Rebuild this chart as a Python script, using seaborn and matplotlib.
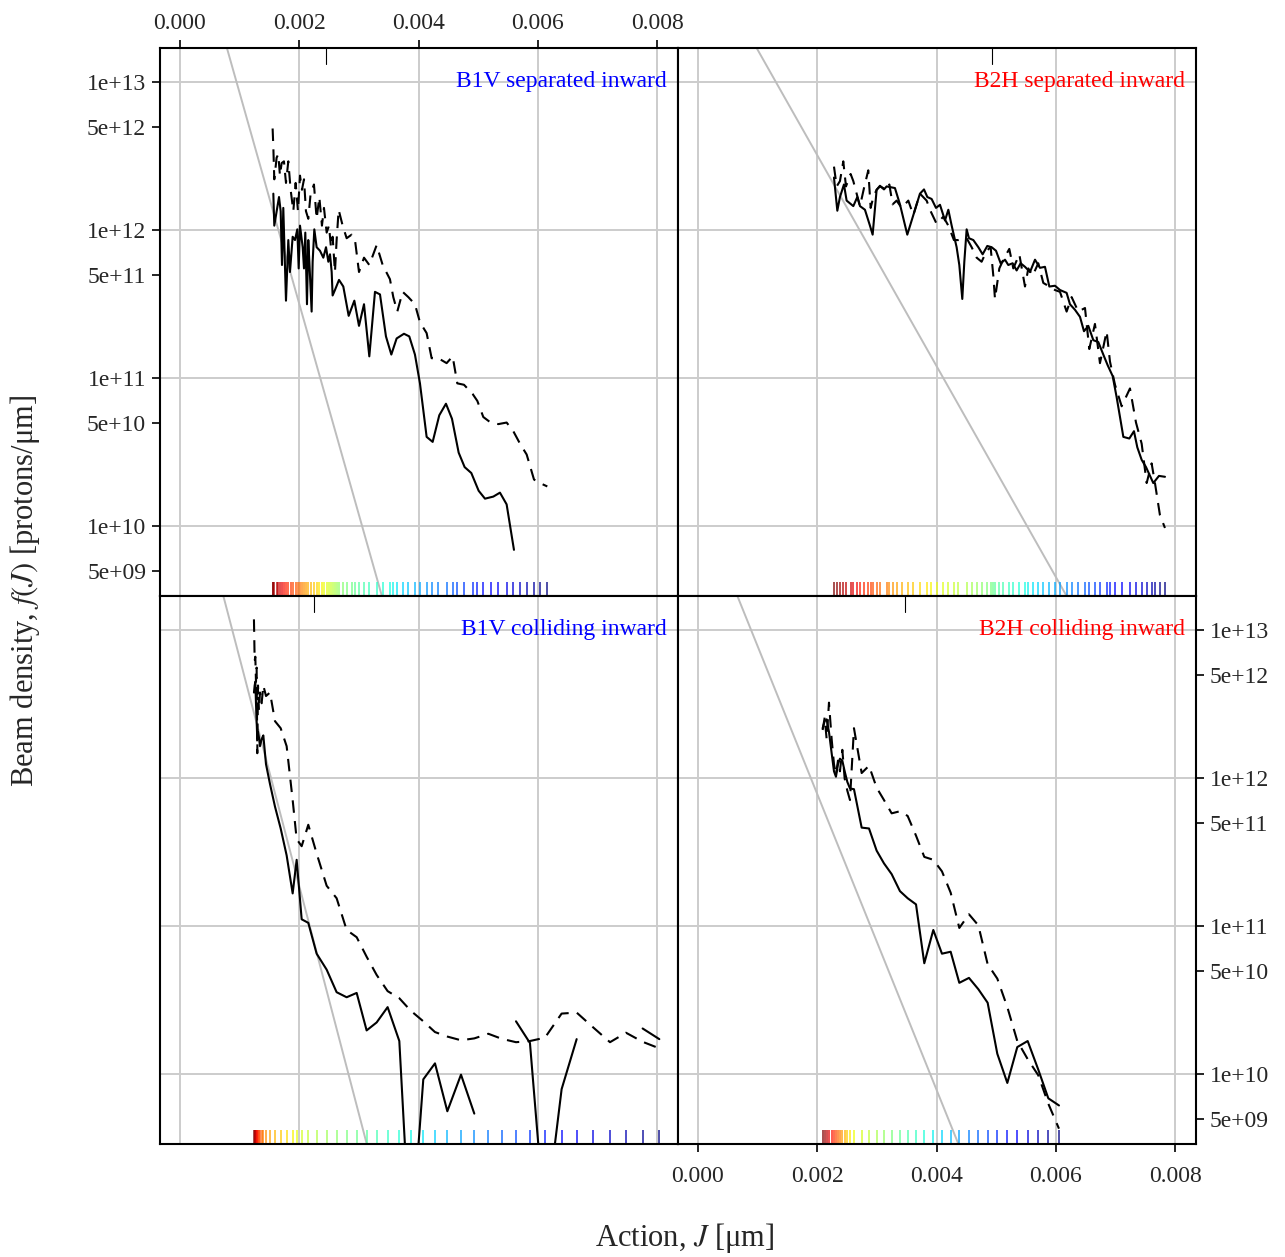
import numpy as np
import pandas as pd
import seaborn as sns
import matplotlib.pyplot as plt
from matplotlib.ticker import FixedLocator, FixedFormatter

# ---- B1V separated inward ----
b1v_sep_solid_j = [0.001565, 0.001581, 0.001660, 0.001688, 0.001710, 0.001732, 0.001777, 0.001816, 0.001844, 0.001889,
                   0.001928, 0.001967, 0.001990, 0.002012, 0.002057, 0.002079, 0.002101, 0.002129, 0.002151, 0.002174,
                   0.002207, 0.002224, 0.002252, 0.002291, 0.002347, 0.002403, 0.002448, 0.002487, 0.002515, 0.002543,
                   0.002559, 0.002598, 0.002666, 0.002738, 0.002828, 0.002923, 0.003001, 0.003085, 0.003174, 0.003269,
                   0.003353, 0.003453, 0.003543, 0.003632, 0.003755, 0.003844, 0.003939, 0.004023, 0.004135, 0.004236,
                   0.004347, 0.004459, 0.004560, 0.004672, 0.004772, 0.004884, 0.005007, 0.005113, 0.005253, 0.005364,
                   0.005476, 0.005599]
b1v_sep_solid_f = [1.76e12, 1.07e12, 1.67e12, 1.34e12, 5.8e11, 1.41e12, 3.33e11, 8.55e11, 5.2e11, 9.0e11,
                   8.55e11, 1.01e12, 5.5e11, 1.07e12, 7.65e11, 5.5e11, 9.6e11, 3.15e11, 8.55e11, 5.5e11,
                   2.81e11, 6.1e11, 1.01e12, 7.65e11, 7.24e11, 6.5e11, 7.65e11, 6.1e11, 6.85e11, 5.2e11,
                   3.61e11, 3.93e11, 4.6e11, 4.15e11, 2.63e11, 3.33e11, 2.25e11, 3.15e11, 1.40e11, 3.82e11,
                   3.67e11, 1.91e11, 1.44e11, 1.85e11, 1.99e11, 1.91e11, 1.44e11, 9.2e10, 4.0e10, 3.7e10,
                   5.6e10, 6.7e10, 5.3e10, 3.13e10, 2.5e10, 2.28e10, 1.73e10, 1.53e10, 1.58e10, 1.68e10,
                   1.40e10, 6.9e9]
b1v_sep_dash_j = [0.001553, 0.001565, 0.001581, 0.001620, 0.001648, 0.001676, 0.001704, 0.001743, 0.001777, 0.001816,
                  0.001855, 0.001900, 0.001939, 0.001978, 0.002012, 0.002045, 0.002079, 0.002112, 0.002151, 0.002190,
                  0.002246, 0.002291, 0.002336, 0.002380, 0.002414, 0.002459, 0.002498, 0.002531, 0.002559, 0.002598,
                  0.002626, 0.002660, 0.002727, 0.002794, 0.002878, 0.002934, 0.003001, 0.003085, 0.003174, 0.003297,
                  0.003398, 0.003520, 0.003576, 0.003643, 0.003733, 0.003828, 0.003939, 0.004023, 0.004135, 0.004219,
                  0.004331, 0.004470, 0.004571, 0.004649, 0.004761, 0.004906, 0.004985, 0.005085, 0.005208, 0.005337,
                  0.005476, 0.005588, 0.005700, 0.005812, 0.005935, 0.006035, 0.006158]
b1v_sep_dash_f = [4.85e12, 3.63e12, 2.2e12, 3.08e12, 3.25e12, 2.33e12, 2.83e12, 2.91e12, 2.08e12, 2.91e12,
                  1.87e12, 1.34e12, 2.08e12, 1.34e12, 2.33e12, 1.87e12, 2.20e12, 1.34e12, 1.19e12, 1.76e12,
                  2.03e12, 1.19e12, 1.67e12, 1.07e12, 1.41e12, 9.6e11, 1.07e12, 7.65e11, 9.0e11, 5.2e11,
                  8.55e11, 1.37e12, 1.07e12, 8.8e11, 9.3e11, 8.55e11, 5.2e11, 6.5e11, 5.8e11, 7.9e11,
                  5.8e11, 4.65e11, 3.52e11, 2.81e11, 3.82e11, 3.52e11, 3.15e11, 2.38e11, 2.01e11, 1.36e11,
                  1.36e11, 1.26e11, 1.40e11, 9.2e10, 9.0e10, 7.8e10, 7.0e10, 5.45e10, 5.0e10, 4.88e10,
                  5.0e10, 4.37e10, 3.6e10, 3.04e10, 2.06e10, 1.95e10, 1.85e10]

# ---- B2H separated inward ----
b2h_sep_solid_j = [0.002280, 0.002336, 0.002380, 0.002447, 0.002492, 0.002604, 0.002671, 0.002716, 0.002799, 0.002883,
                   0.002928, 0.002995, 0.003051, 0.003118, 0.003163, 0.003219, 0.003302, 0.003386, 0.003509, 0.003610,
                   0.003721, 0.003789, 0.003845, 0.003917, 0.003990, 0.004057, 0.004141, 0.004197, 0.004253, 0.004336,
                   0.004381, 0.004431, 0.004465, 0.004504, 0.004543, 0.004616, 0.004700, 0.004772, 0.004850, 0.004923,
                   0.004996, 0.005074, 0.005147, 0.005202, 0.005275, 0.005342, 0.005409, 0.005482, 0.005566, 0.005650,
                   0.005733, 0.005817, 0.005890, 0.005985, 0.006069, 0.006180, 0.006236, 0.006320, 0.006404, 0.006471,
                   0.006544, 0.006628, 0.006711, 0.006795, 0.006868, 0.006952, 0.007019, 0.007131, 0.007231, 0.007309,
                   0.007365, 0.007438, 0.007511, 0.007633, 0.007728, 0.007829]
b2h_sep_solid_f = [2.26e12, 1.35e12, 1.67e12, 2.03e12, 1.58e12, 1.45e12, 1.67e12, 1.45e12, 1.37e12, 1.07e12,
                   9.3e11, 1.87e12, 1.99e12, 1.88e12, 1.97e12, 1.95e12, 1.92e12, 1.49e12, 9.3e11, 1.26e12,
                   1.76e12, 1.88e12, 1.67e12, 1.62e12, 1.41e12, 1.48e12, 1.16e12, 1.37e12, 1.07e12, 7.65e11,
                   5.8e11, 3.42e11, 6.1e11, 1.01e12, 8.8e11, 8.55e11, 7.65e11, 6.85e11, 7.8e11, 7.65e11,
                   7.24e11, 5.96e11, 6.3e11, 5.8e11, 5.96e11, 5.33e11, 5.96e11, 5.64e11, 5.2e11, 6.3e11,
                   5.55e11, 5.64e11, 4.15e11, 4.2e11, 3.93e11, 3.76e11, 3.15e11, 2.89e11, 2.59e11, 2.07e11,
                   2.25e11, 1.80e11, 1.75e11, 1.44e11, 1.22e11, 1.03e11, 7.4e10, 4.0e10, 3.9e10, 4.37e10,
                   3.4e10, 2.8e10, 2.5e10, 1.95e10, 2.18e10, 2.15e10]
b2h_sep_dash_j = [0.002280, 0.002325, 0.002380, 0.002436, 0.002481, 0.002559, 0.002604, 0.002660, 0.002716, 0.002783,
                  0.002855, 0.002895, 0.002939, 0.002995, 0.003051, 0.003163, 0.003208, 0.003263, 0.003330, 0.003414,
                  0.003526, 0.003610, 0.003721, 0.003833, 0.003900, 0.004001, 0.004113, 0.004197, 0.004291, 0.004364,
                  0.004504, 0.004588, 0.004672, 0.004755, 0.004839, 0.004906, 0.004951, 0.004979, 0.005052, 0.005119,
                  0.005219, 0.005286, 0.005387, 0.005482, 0.005538, 0.005610, 0.005705, 0.005789, 0.005890, 0.005985,
                  0.006069, 0.006180, 0.006264, 0.006376, 0.006488, 0.006560, 0.006655, 0.006739, 0.006851, 0.006907,
                  0.006991, 0.007103, 0.007242, 0.007343, 0.007438, 0.007522, 0.007605, 0.007661, 0.007745, 0.007829]
b2h_sep_dash_f = [2.68e12, 1.97e12, 2.14e12, 2.91e12, 1.97e12, 2.39e12, 2.14e12, 1.76e12, 1.45e12, 1.92e12,
                  2.53e12, 1.41e12, 1.67e12, 1.87e12, 1.97e12, 1.87e12, 2.03e12, 1.49e12, 1.58e12, 1.41e12,
                  1.58e12, 1.26e12, 1.76e12, 1.58e12, 1.34e12, 1.10e12, 1.23e12, 1.07e12, 8.55e11, 8.55e11,
                  8.8e11, 7.65e11, 6.5e11, 6.1e11, 7.24e11, 7.65e11, 4.91e11, 3.42e11, 5.5e11, 6.3e11,
                  7.45e11, 5.5e11, 6.85e11, 4.15e11, 5.5e11, 4.91e11, 5.96e11, 4.39e11, 4.15e11, 3.93e11,
                  3.82e11, 2.81e11, 3.52e11, 2.81e11, 2.97e11, 1.57e11, 2.32e11, 1.26e11, 2.07e11, 1.29e11,
                  9.0e10, 6.44e10, 8.5e10, 5.0e10, 3.6e10, 1.95e10, 2.65e10, 1.95e10, 1.18e10, 9.7e9]

# ---- B1V colliding inward (nan = empty bin) ----
b1v_col_j = [0.001240, 0.001252, 0.001263, 0.001274, 0.001285, 0.001296, 0.001308, 0.001324, 0.001341, 0.001369,
             0.001397, 0.001442, 0.001509, 0.001593, 0.001688, 0.001788, 0.001889, 0.001956, 0.002040, 0.002151,
             0.002291, 0.002459, 0.002626, 0.002794, 0.002962, 0.003129, 0.003297, 0.003481, 0.003677, 0.003867,
             0.004079, 0.004275, 0.004482, 0.004711, 0.004934, 0.005169, 0.005392, 0.005633, 0.005867, 0.006119,
             0.006398, 0.006650, 0.006918, 0.007209, 0.007477, 0.007756, 0.008036]
b1v_col_solid_f = [3.78e12, 4.22e12, 4.47e12, 3.2e12, 2.42e12, 1.83e12, 2.05e12, 1.88e12, 1.64e12, 1.83e12,
                   1.94e12, 1.24e12, 9.1e11, 6.4e11, 4.56e11, 3.0e11, 1.66e11, 2.8e11, 1.11e11, 1.05e11,
                   6.5e10, 5.07e10, 3.57e10, 3.3e10, 3.53e10, 1.97e10, 2.23e10, 2.83e10, 1.67e10, 6.4e8,
                   9.2e9, 1.18e10, 5.6e9, 9.9e9, 5.4e9, np.nan, np.nan, 2.27e10, 1.62e10, 9.5e8,
                   7.9e9, 1.72e10, np.nan, np.nan, np.nan, 2.03e10, 1.72e10]
b1v_col_dash_f = [1.18e13, 6.2e12, 6.6e12, 4.47e12, 5.57e12, 1.47e12, 4.22e12, 2.86e12, 3.78e12, 3.2e12,
                  4.22e12, 3.58e12, 3.78e12, 2.42e12, 2.17e12, 1.64e12, 7.1e11, 3.86e11, 3.46e11, 4.83e11,
                  3.09e11, 1.87e11, 1.54e11, 9.4e10, 8.4e10, 6.2e10, 4.67e10, 3.63e10, 3.25e10, 2.68e10,
                  2.27e10, 1.92e10, 1.79e10, 1.69e10, 1.74e10, 1.87e10, 1.73e10, 1.64e10, 1.67e10, 1.76e10,
                  2.56e10, 2.6e10, 2.08e10, 1.64e10, 1.90e10, 1.65e10, 1.49e10]

# ---- B2H colliding inward ----
b2h_col_j = [0.002090, 0.002124, 0.002157, 0.002196, 0.002241, 0.002280, 0.002313, 0.002347, 0.002380, 0.002420,
             0.002459, 0.002504, 0.002548, 0.002615, 0.002744, 0.002867, 0.002995, 0.003118, 0.003247, 0.003386,
             0.003515, 0.003655, 0.003794, 0.003945, 0.004090, 0.004236, 0.004381, 0.004543, 0.004700, 0.004856,
             0.005018, 0.005186, 0.005353, 0.005527, 0.005705, 0.005873, 0.006052]
b2h_col_solid_f = [2.17e12, 2.42e12, 2.49e12, 2.05e12, 1.47e12, 1.11e12, 1.02e12, 1.24e12, 1.35e12, 1.31e12,
                   1.11e12, 9.4e11, 8.5e11, 8.4e11, 4.62e11, 4.56e11, 3.23e11, 2.65e11, 2.24e11, 1.72e11,
                   1.54e11, 1.40e11, 5.6e10, 9.4e10, 6.5e10, 6.7e10, 4.13e10, 4.46e10, 3.74e10, 3.03e10,
                   1.37e10, 8.7e9, 1.52e10, 1.67e10, 1.07e10, 6.85e9, 6.13e9]
b2h_col_dash_f = [2.11e12, 2.56e12, 1.83e12, 3.23e12, 1.83e12, 1.24e12, 1.05e12, 1.31e12, 1.11e12, 1.55e12,
                  9.9e11, 8.2e11, 7.1e11, 2.17e12, 1.08e12, 1.21e12, 8.6e11, 7.1e11, 5.77e11, 5.96e11,
                  5.54e11, 4.08e11, 2.93e11, 2.8e11, 2.34e11, 1.68e11, 9.7e10, 1.20e11, 1.01e11, 5.52e10,
                  4.41e10, 2.83e10, 1.67e10, 1.26e10, 9.8e9, 6.3e9, 4.27e9]

# gray core reference lines (two points each, straight on log scale)
ref_j = {"b1v_sep": [0.0005, 0.0036], "b2h_sep": [0.0005, 0.0065],
         "b1v_col": [0.0005, 0.0033], "b2h_col": [0.0004, 0.0047]}
ref_f = {"b1v_sep": [4.35e13, 1.66e9], "b2h_sep": [3.75e13, 1.99e9],
         "b1v_col": [3.8e13, 1.85e9], "b2h_col": [3.09e13, 1.56e9]}
# small marker at top of each panel
marks = {"b1v_sep": 0.002448, "b2h_sep": 0.004923, "b1v_col": 0.002246, "b2h_col": 0.003476}

x_ticks = [0.0, 0.002, 0.004, 0.006, 0.008]
x_labels = ["0.000", "0.002", "0.004", "0.006", "0.008"]
y_major = [1e10, 1e11, 1e12, 1e13]
y_major_labels = ["1e+10", "1e+11", "1e+12", "1e+13"]
y_minor = [5e9, 5e10, 5e11, 5e12]
y_minor_labels = ["5e+09", "5e+10", "5e+11", "5e+12"]

sns.set_style("white")
plt.rcParams['font.family'] = ['Liberation Serif', 'DejaVu Serif']
plt.rcParams['mathtext.fontset'] = 'stix'

fig = plt.figure(figsize=(12.85, 12.57), dpi=100)
W, H = 518 / 1285, 548 / 1257
x0, x1 = 160 / 1285, 678 / 1285
y_top, y_bot = 1 - 596 / 1257, 1 - 1144 / 1257

panels = [
    ("b1v_sep", (x0, y_top), "B1V separated inward", "blue",
     b1v_sep_solid_j, b1v_sep_solid_f, b1v_sep_dash_j, b1v_sep_dash_f),
    ("b2h_sep", (x1, y_top), "B2H separated inward", "red",
     b2h_sep_solid_j, b2h_sep_solid_f, b2h_sep_dash_j, b2h_sep_dash_f),
    ("b1v_col", (x0, y_bot), "B1V colliding inward", "blue",
     b1v_col_j, b1v_col_solid_f, b1v_col_j, b1v_col_dash_f),
    ("b2h_col", (x1, y_bot), "B2H colliding inward", "red",
     b2h_col_j, b2h_col_solid_f, b2h_col_j, b2h_col_dash_f),
]


def to_frame(j, f, kind, offset):
    d = pd.DataFrame({"J": j, "f": f})
    d["seg"] = d["f"].isna().cumsum() + offset
    d["kind"] = kind
    return d.dropna()


for key, (px, py), title, tcol, sj, sf, dj, df_ in panels:
    ax = fig.add_axes([px, py, W, H])
    ax.set_yscale("log")
    ax.set_axisbelow(True)

    sns.lineplot(x=ref_j[key], y=ref_f[key], color="#bdbdbd", linewidth=1.4, ax=ax)

    data = pd.concat([to_frame(sj, sf, "solid", 0), to_frame(dj, df_, "dashed", 100)])
    sns.lineplot(data=data, x="J", y="f", style="kind", units="seg", estimator=None,
                 sort=False, color="black", linewidth=1.5,
                 dashes={"solid": "", "dashed": (6, 4)}, legend=False, ax=ax)

    sns.rugplot(x=dj, hue=np.arange(len(dj)), palette="jet_r", height=0.026,
                linewidth=1.3, alpha=0.75, legend=False, expand_margins=False, ax=ax)

    ax.axvline(marks[key], ymin=0.971, ymax=1.0, color="black", linewidth=0.8)
    ax.text(0.979, 0.929, title, transform=ax.transAxes, ha="right", va="baseline",
            color=tcol, fontsize=17)

    ax.set_xlim(-0.000335, 0.008349)
    ax.set_ylim(3.365e9, 1.697e13)
    ax.xaxis.set_major_locator(FixedLocator(x_ticks))
    ax.xaxis.set_major_formatter(FixedFormatter(x_labels))
    ax.yaxis.set_major_locator(FixedLocator(y_major))
    ax.yaxis.set_major_formatter(FixedFormatter(y_major_labels))
    ax.yaxis.set_minor_locator(FixedLocator(y_minor))
    ax.yaxis.set_minor_formatter(FixedFormatter(y_minor_labels))
    ax.grid(True, which="major", color="#cccccc", linewidth=1.4)
    ax.set_xlabel("")
    ax.set_ylabel("")
    for s in ax.spines.values():
        s.set_color("black")
        s.set_linewidth(1.5)

    ax.tick_params(which="both", direction="out", length=6, width=1.2, color="black",
                   labelsize=17, pad=4, top=False, bottom=False, left=False, right=False,
                   labeltop=False, labelbottom=False, labelleft=False, labelright=False)
    if key == "b1v_sep":
        ax.tick_params(axis="x", which="both", top=True, labeltop=True)
        ax.tick_params(axis="y", which="both", left=True, labelleft=True)
    if key == "b2h_col":
        ax.tick_params(axis="x", which="both", bottom=True, labelbottom=True, pad=10)
        ax.tick_params(axis="y", which="both", right=True, labelright=True)

fig.text(685 / 1285, 1 - 1238 / 1257, r"Action, $J$ [μm]", ha="center", va="center", fontsize=22)
fig.text(25 / 1285, 1 - 591 / 1257, r"Beam density, $f(J)$ [protons/μm]", ha="center",
         va="center", rotation=90, fontsize=22)

fig.savefig("out.png", dpi=100)
